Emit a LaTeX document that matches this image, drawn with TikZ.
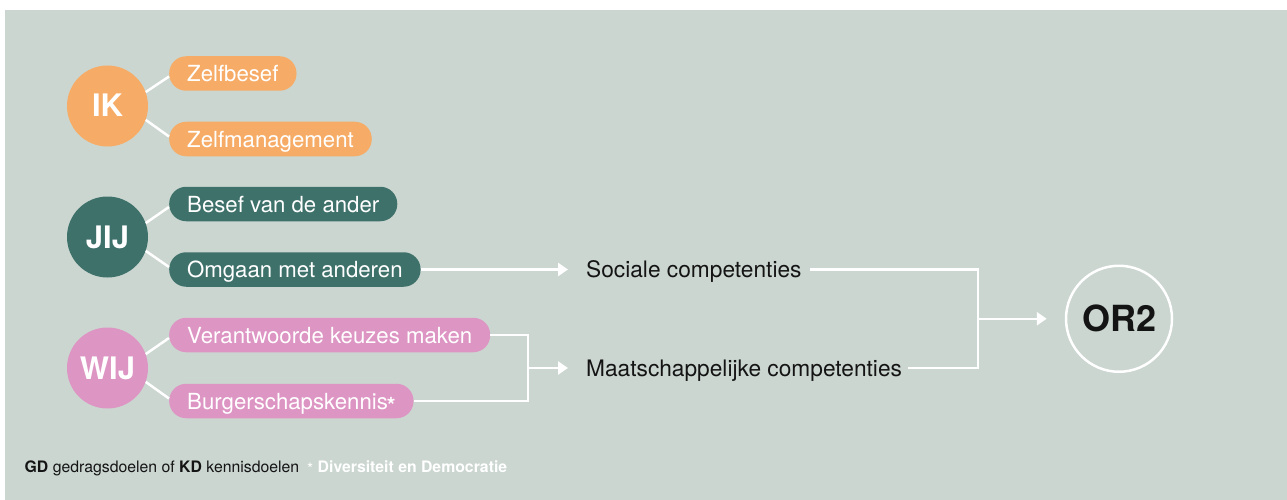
\documentclass[tikz,border=0pt]{standalone}
\usepackage{fontspec}
\setmainfont{TeX Gyre Heros}
\usetikzlibrary{arrows.meta,calc}
\definecolor{bg}{HTML}{CBD6D0}
\definecolor{ikc}{HTML}{F6AC66}
\definecolor{jijc}{HTML}{3F716B}
\definecolor{wijc}{HTML}{DD95C3}
\definecolor{ink}{HTML}{141414}
\begin{document}
\begin{tikzpicture}[x=1pt,y=-1pt,
  hub/.style={circle,minimum size=81pt,inner sep=0pt,text=white,font=\fontsize{31}{31}\selectfont\bfseries,text height=22pt,text depth=0pt},
  pill/.style={rounded corners=17pt,minimum height=34.5pt,inner xsep=18pt,inner ysep=0pt,anchor=west,text=white,font=\fontsize{22.2}{24}\selectfont,text height=16pt,text depth=0pt},
  comp/.style={anchor=west,inner sep=0pt,text=ink,font=\fontsize{22.7}{24}\selectfont,text height=16.3pt,text depth=0pt},
  wline/.style={draw=white,line width=2.5pt},
  warrow/.style={wline,-{Triangle[length=10pt,width=13pt]}},
  goal/.style={circle,draw=white,line width=2.5pt,minimum size=106pt,inner sep=0pt,text=ink,font=\fontsize{36}{36}\selectfont\bfseries,text height=26pt,text depth=0pt}
]
\useasboundingbox (0,0) rectangle (1287,500);
\fill[white] (0,0) rectangle (1287,500);
\fill[bg] (5,10) rectangle (1287,500);

\node[hub,fill=ikc] (ik) at (107.5,106) {IK};
\node[pill,fill=ikc] (zb) at (169,73.5) {Zelfbesef};
\node[pill,fill=ikc] (zm) at (169,139) {Zelfmanagement};
\node[hub,fill=jijc] (jij) at (107.5,237) {JIJ};
\node[pill,fill=jijc] (bva) at (169,204) {Besef van de ander};
\node[pill,fill=jijc] (oma) at (169,269.5) {Omgaan met anderen};
\node[hub,fill=wijc] (wij) at (107.5,368) {WIJ};
\node[pill,fill=wijc] (vkm) at (169,335) {Verantwoorde keuzes maken};
\node[pill,fill=wijc] (bsk) at (169,401) {Burgerschapskennis\kern-1pt\raisebox{-4pt}{\bfseries*}};

\node[comp] (soc) at (586,269.5) {Sociale competenties};
\node[comp] (maa) at (586,368) {Maatschappelijke competenties};
\node[goal] (or) at (1119,318.75) {OR2};

\draw[wline] (ik.20) -- ($(zb.west)+(0,3)$);
\draw[wline] (ik.-20) -- ($(zm.west)+(0,-2.5)$);
\draw[wline] (jij.20) -- ($(bva.west)+(0,3)$);
\draw[wline] (jij.-20) -- ($(oma.west)+(0,-2.5)$);
\draw[wline] (wij.20) -- ($(vkm.west)+(0,3)$);
\draw[wline] (wij.-20) -- ($(bsk.west)+(0,-2.5)$);

\draw[warrow] (oma.east) -- ($(soc.west)+(-18,0)$);
\coordinate (wb) at (528,368);
\draw[wline] (vkm.east) -| (wb) |- (bsk.east);
\draw[warrow] (wb) -- ($(maa.west)+(-18,0)$);

\coordinate (rb) at (978,318.75);
\draw[wline] ($(soc.east)+(8,0)$) -| (rb) |- ($(maa.east)+(6,0)$);
\draw[warrow] (rb) -- ($(or.west)+(-18,0)$);

\node[anchor=base west,inner sep=0pt,text=ink,font=\fontsize{15.8}{18}\selectfont] (foot) at (24.5,472) {\textbf{GD} gedragsdoelen of \textbf{KD} kennisdoelen\hspace{8pt}\textcolor{white}{\raisebox{-2pt}{*} \textbf{Diversiteit en Democratie}}};
\end{tikzpicture}
\end{document}
